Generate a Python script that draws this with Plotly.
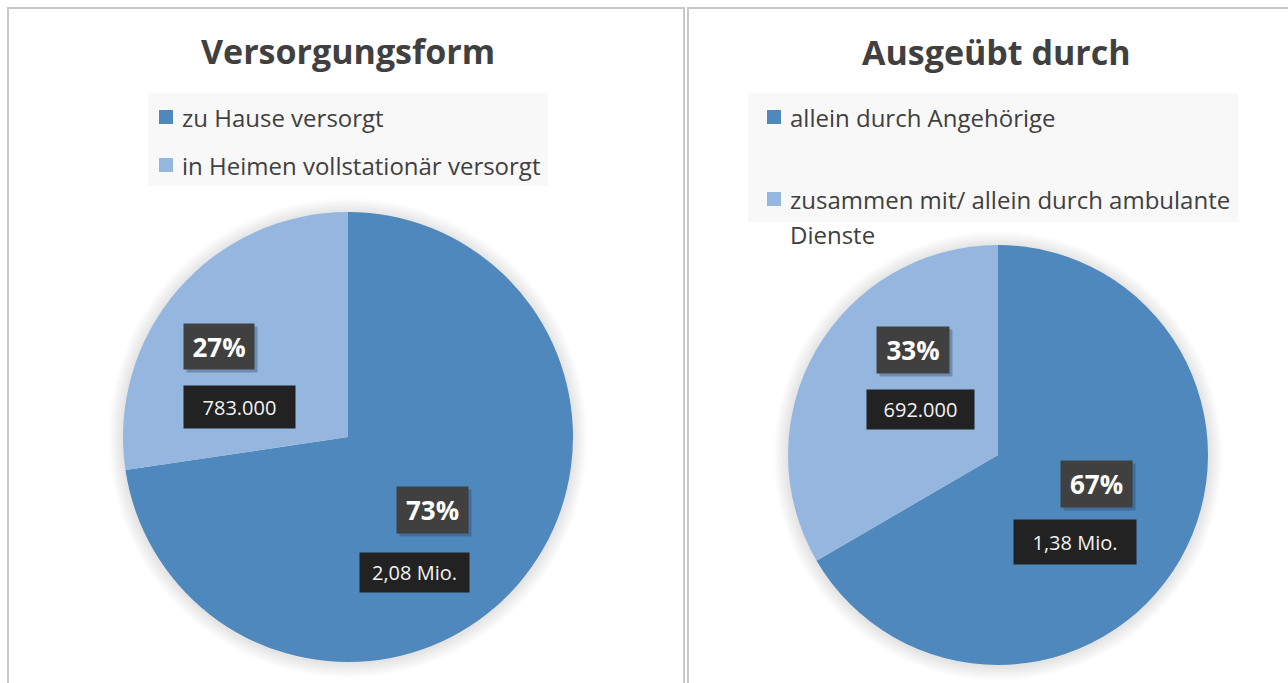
import plotly.graph_objects as go

W, H = 1288, 683

# ---- data ----
titles = ["Versorgungsform", "Ausgeübt durch"]
labels_left = ["zu Hause versorgt", "in Heimen vollstationär versorgt"]
values_left = [2080000, 783000]
value_text_left = ["2,08 Mio.", "783.000"]
labels_right = ["allein durch Angehörige", "zusammen mit/ allein durch ambulante Dienste"]
values_right = [1380000, 692000]
value_text_right = ["1,38 Mio.", "692.000"]
colors = ["#4F88BD", "#95B7DF"]

def px(x):
    return x / W

def py(y):
    return 1 - y / H

fig = go.Figure()

# pies: (center x, center y, radius) in px
pies = [
    (labels_left, values_left, 348, 437, 225),
    (labels_right, values_right, 998, 455, 210),
]
for labels, values, cx, cy, r in pies:
    fig.add_trace(go.Pie(
        labels=labels, values=values, sort=False, direction="clockwise", rotation=0,
        marker=dict(colors=colors, line=dict(width=0)),
        textinfo="none", hoverinfo="label+value+percent", showlegend=False,
        domain=dict(x=[px(cx - r), px(cx + r)], y=[py(cy + r), py(cy - r)]),
    ))

shapes = []
annotations = []

# panel borders
for x0, x1 in [(8, 684), (688, 1300)]:
    shapes.append(dict(type="rect", xref="paper", yref="paper",
                       x0=px(x0), x1=px(x1), y0=py(700), y1=py(8),
                       line=dict(color="#C8C8C8", width=2), fillcolor="rgba(0,0,0,0)"))

# soft shadow behind pies
for _, _, cx, cy, r in pies:
    for k in range(1, 10):
        rr = r + k * 1.6
        shapes.append(dict(type="circle", xref="paper", yref="paper", layer="below",
                           x0=px(cx - rr), x1=px(cx + rr), y0=py(cy + rr + 1), y1=py(cy - rr + 1),
                           line=dict(width=0), fillcolor="rgba(0,0,0,0.011)"))

# titles
for t, cx, ty in [(titles[0], 348, 51), (titles[1], 997, 52)]:
    annotations.append(dict(text="<b>%s</b>" % t, x=px(cx), y=py(ty), xref="paper", yref="paper",
                            showarrow=False, xanchor="center", yanchor="middle",
                            font=dict(family="Open Sans", size=34, color="#404040")))

# legends (manual, to match spacing)
legend_font = dict(family="Open Sans", size=24, color="#404040")
leg_specs = [
    (labels_left, (148, 93, 548, 186), [(166, 117), (166, 165)], 60),
    (labels_right, (748, 93, 1238, 222), [(774, 117), (774, 199)], 36),
]
for labels, box, items, maxchars in leg_specs:
    bx0, by0, bx1, by1 = box
    shapes.append(dict(type="rect", xref="paper", yref="paper", layer="below",
                       x0=px(bx0), x1=px(bx1), y0=py(by1), y1=py(by0),
                       line=dict(width=0), fillcolor="#F8F8F8"))
    for i, (lab, (sx, sy)) in enumerate(zip(labels, items)):
        shapes.append(dict(type="rect", xref="paper", yref="paper",
                           x0=px(sx - 7), x1=px(sx + 7), y0=py(sy + 7), y1=py(sy - 7),
                           line=dict(width=0), fillcolor=colors[i]))
        # simple word wrap
        lines, cur = [], ""
        for wd in lab.split(" "):
            cand = (cur + " " + wd).strip()
            if len(cand) > maxchars and cur:
                lines.append(cur)
                cur = wd
            else:
                cur = cand
        lines.append(cur)
        for j, ln in enumerate(lines):
            annotations.append(dict(text=ln, x=px(sx + 14), y=py(sy + j * 35), xref="paper", yref="paper",
                                    showarrow=False, xanchor="left", yanchor="middle", align="left",
                                    font=legend_font))

# data labels
def pct(vals):
    tot = sum(vals)
    return ["%d%%" % round(100 * v / tot) for v in vals]

label_boxes = [
    # (percent text, value text, pct box center+size, value box center+size)
    (pct(values_left)[0], value_text_left[0], (432.5, 510, 71, 46), (414.5, 572, 109, 39)),
    (pct(values_left)[1], value_text_left[1], (219, 346, 70, 45), (239.5, 407, 111, 42)),
    (pct(values_right)[0], value_text_right[0], (1096.5, 484, 71, 46), (1075, 542, 122, 44)),
    (pct(values_right)[1], value_text_right[1], (913, 350, 72, 46), (920.5, 409.5, 107, 39)),
]
for ptxt, vtxt, pb, vb in label_boxes:
    x, y, w, h = pb
    # drop shadow
    annotations.append(dict(text=" ", x=px(x + 3), y=py(y + 3), xref="paper", yref="paper",
                            showarrow=False, xanchor="center", yanchor="middle",
                            width=w, height=h, borderpad=0, bgcolor="rgba(40,60,90,0.35)",
                            font=dict(size=10)))
    annotations.append(dict(text="<b>%s</b>" % ptxt, x=px(x), y=py(y), xref="paper", yref="paper",
                            showarrow=False, xanchor="center", yanchor="middle",
                            width=w, height=h, borderpad=0, bgcolor="#404040",
                            font=dict(family="Open Sans", size=26, color="white")))
    x, y, w, h = vb
    annotations.append(dict(text=vtxt, x=px(x), y=py(y), xref="paper", yref="paper",
                            showarrow=False, xanchor="center", yanchor="middle",
                            width=w, height=h, borderpad=0, bgcolor="#222222",
                            font=dict(family="Open Sans", size=20, color="#F2F2F2")))

fig.update_layout(
    width=W, height=H, margin=dict(l=0, r=0, t=0, b=0),
    paper_bgcolor="white", plot_bgcolor="white",
    shapes=shapes, annotations=annotations, showlegend=False,
)

fig.write_html("out.html", post_script="document.body.style.margin='0';",
               config={"displayModeBar": False})
